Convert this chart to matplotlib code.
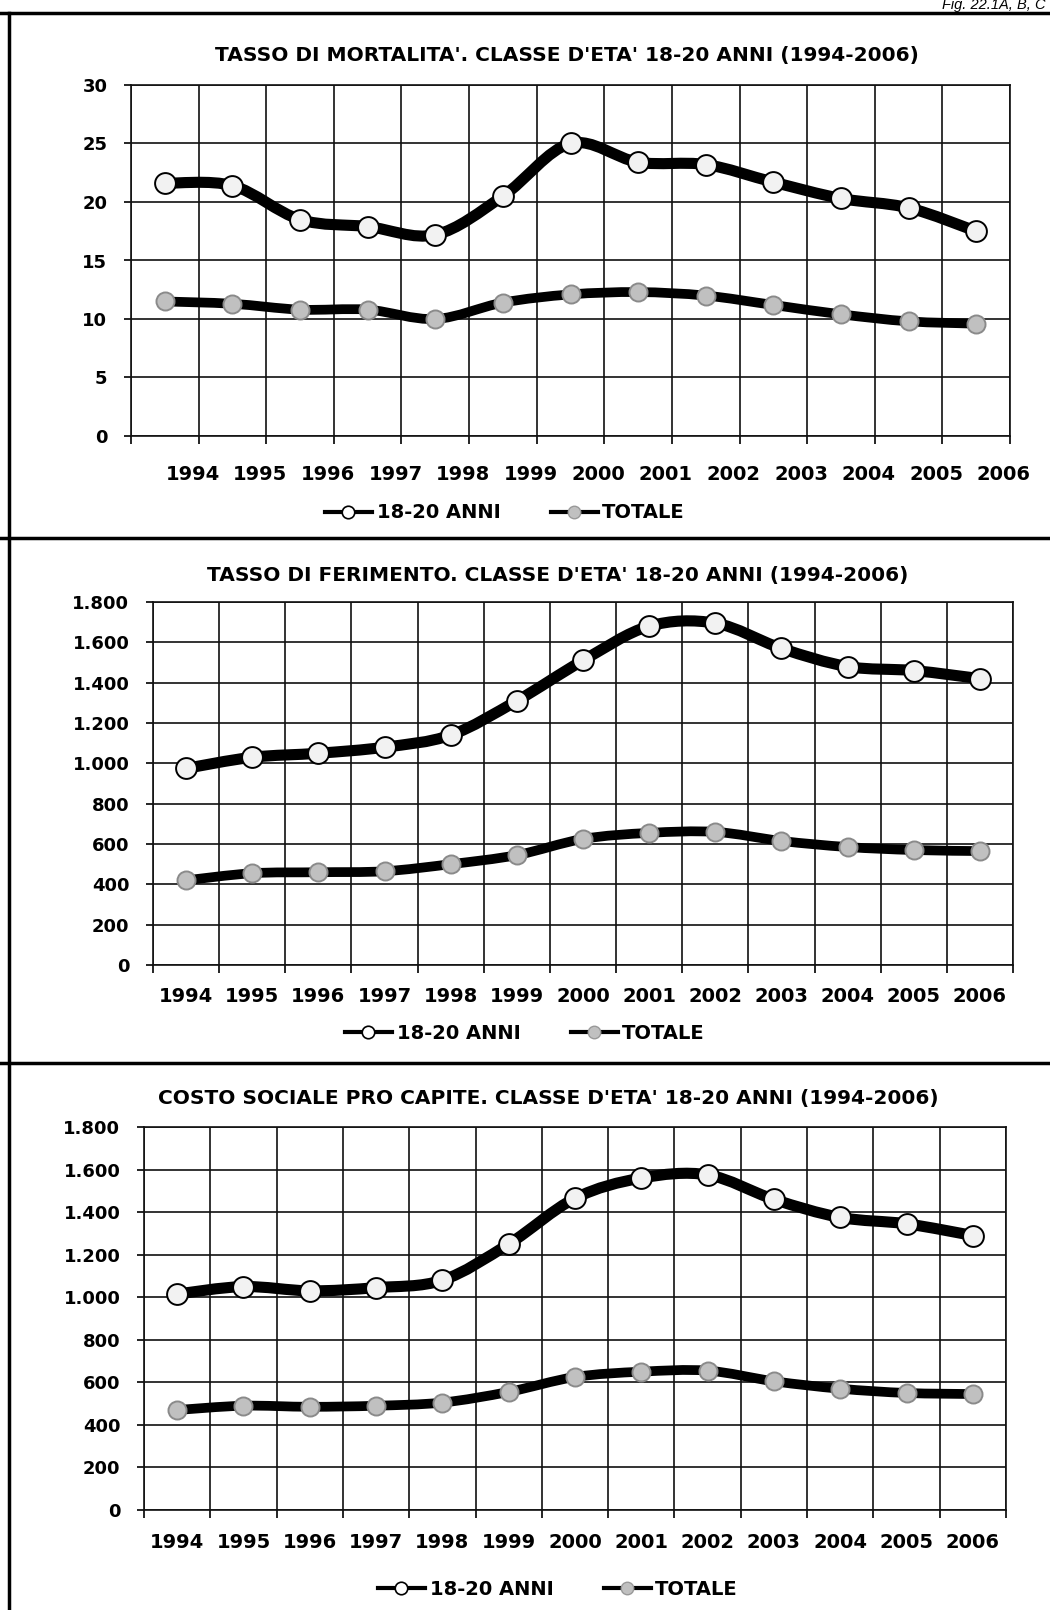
import matplotlib
matplotlib.use("Agg")
import matplotlib.pyplot as plt
from matplotlib.path import Path
from matplotlib.patches import PathPatch
from matplotlib.lines import Line2D
import numpy as np

plt.rcParams["font.family"] = ["DejaVu Sans"]

years = ["1994", "1995", "1996", "1997", "1998", "1999", "2000",
         "2001", "2002", "2003", "2004", "2005", "2006"]

mort_1820 = [21.6, 21.4, 18.5, 17.9, 17.2, 20.5, 25.0, 23.4, 23.2, 21.7, 20.3, 19.5, 17.5]
mort_tot = [11.5, 11.3, 10.8, 10.8, 10.0, 11.4, 12.1, 12.3, 12.0, 11.2, 10.4, 9.8, 9.6]

fer_1820 = [975, 1030, 1050, 1080, 1140, 1310, 1510, 1680, 1695, 1570, 1480, 1460, 1420]
fer_tot = [420, 455, 460, 465, 500, 545, 625, 655, 660, 615, 585, 570, 565]

costo_1820 = [1015, 1050, 1030, 1045, 1080, 1250, 1465, 1560, 1575, 1460, 1375, 1345, 1290]
costo_tot = [470, 490, 485, 490, 505, 555, 625, 650, 655, 605, 570, 550, 545]

titles = [
    "TASSO DI MORTALITA'. CLASSE D'ETA' 18-20 ANNI (1994-2006)",
    "TASSO DI FERIMENTO. CLASSE D'ETA' 18-20 ANNI (1994-2006)",
    "COSTO SOCIALE PRO CAPITE. CLASSE D'ETA' 18-20 ANNI (1994-2006)",
]
legend_labels = ["18-20 ANNI", "TOTALE"]

W, H = 1050, 1610
PT = 100 / 72  # pixels per point
fig = plt.figure(figsize=(W / 100, H / 100), dpi=100)
fig.patch.set_facecolor("white")


def px_axes(l, t, r, b):
    return fig.add_axes([l / W, 1 - b / H, (r - l) / W, (b - t) / H])


def smooth_path(xs, ys):
    # smoothed line through the points (cubic Bezier, like Excel's smoothed lines)
    p = np.column_stack([xs, ys]).astype(float)
    ext = np.vstack([p[0], p, p[-1]])
    verts = [p[0]]
    codes = [Path.MOVETO]
    for i in range(len(p) - 1):
        p0, p1, p2, p3 = ext[i], ext[i + 1], ext[i + 2], ext[i + 3]
        verts += [p1 + (p2 - p0) / 6.0, p2 - (p3 - p1) / 6.0, p2]
        codes += [Path.CURVE4] * 3
    return Path(verts, codes)


def draw_series(ax, ys, lw, face, edge, ms):
    xs = np.arange(len(ys))
    ax.add_patch(PathPatch(smooth_path(xs, ys), facecolor="none", edgecolor="black",
                           lw=lw, capstyle="round", joinstyle="round", zorder=3))
    ax.plot(xs, ys, "o", ms=ms, mfc=face, mec=edge, mew=1.4, zorder=4)


def it_fmt(v):
    return f"{int(v):,}".replace(",", ".")


def setup(ax, ymax, ystep, fmt, shift, xlab_y, bottom):
    n = len(years)
    ax.set_xlim(-0.5, n - 0.5)
    ax.set_ylim(0, ymax)
    ax.set_xticks(np.arange(n + 1) - 0.5)
    ax.set_xticklabels([])
    ax.set_xticks(np.arange(n) + shift, minor=True)
    ax.set_xticklabels(years, minor=True, fontsize=14, fontweight="bold")
    ax.tick_params(axis="x", which="major", length=6, width=1.2, direction="out")
    ax.tick_params(axis="x", which="minor", length=0, pad=(xlab_y - bottom - 10) / PT)
    yt = np.arange(0, ymax + ystep / 2, ystep)
    ax.set_yticks(yt)
    ax.set_yticklabels([fmt(v) for v in yt], fontsize=13, fontweight="bold")
    ax.tick_params(axis="y", length=5, width=1.2, pad=12)
    ax.grid(True, which="major", color="#111111", lw=1.2)
    ax.set_axisbelow(True)
    for s in ax.spines.values():
        s.set_color("#111111")
        s.set_linewidth(1.2)


def legend(y, x):
    h1 = Line2D([], [], color="black", lw=3, marker="o", ms=9, mfc="white", mec="black", mew=1.2)
    h2 = Line2D([], [], color="black", lw=3, marker="o", ms=9, mfc="#c0c0c0", mec="#999999", mew=1.0)
    fig.legend([h1, h2], legend_labels, loc="center", bbox_to_anchor=(x / W, 1 - y / H),
               ncol=2, frameon=False, handlelength=2.4, handletextpad=0.25,
               columnspacing=2.6, prop={"weight": "bold", "size": 14})


mort_fmt = lambda v: f"{int(v)}"

panels = [
    # box (l, t, r, b), series, ymax, step, formatter, label shift,
    # title (x, y), xlabel y, legend (x, y)
    ((131, 85, 1010, 436), mort_1820, mort_tot, 30, 5, mort_fmt, 0.41, (567, 56), 475, (505, 513)),
    ((153, 602, 1013, 965), fer_1820, fer_tot, 1800, 200, it_fmt, 0.0, (558, 575), 997, (525, 1033)),
    ((144, 1127, 1006, 1510), costo_1820, costo_tot, 1800, 200, it_fmt, 0.0, (548, 1098), 1543, (558, 1589)),
]

for i, (box, s1, s2, ymax, ystep, fmt, shift, tpos, xly, lpos) in enumerate(panels):
    ax = px_axes(*box)
    setup(ax, ymax, ystep, fmt, shift, xly, box[3])
    draw_series(ax, s2, 7, "#c0c0c0", "#8a8a8a", 13)
    draw_series(ax, s1, 8, "#f2f2f2", "black", 15)
    fig.text(tpos[0] / W, 1 - tpos[1] / H, titles[i], ha="center", va="center",
             fontsize=14.5, fontweight="bold")
    legend(lpos[1], lpos[0])

# frame lines
frame = fig.add_axes([0, 0, 1, 1], facecolor="none")
frame.set_xlim(0, W)
frame.set_ylim(H, 0)
frame.axis("off")
for yy in (13, 538, 1063):
    frame.plot([0, W], [yy, yy], color="black", lw=2.5)
frame.plot([9, 9], [13, H], color="black", lw=2.5)

fig.text(1046 / W, 1 - 12 / H, "Fig. 22.1A, B, C", family="Liberation Sans",
         style="italic", fontsize=10.5, ha="right", va="bottom")

fig.savefig("out.png", dpi=100)
